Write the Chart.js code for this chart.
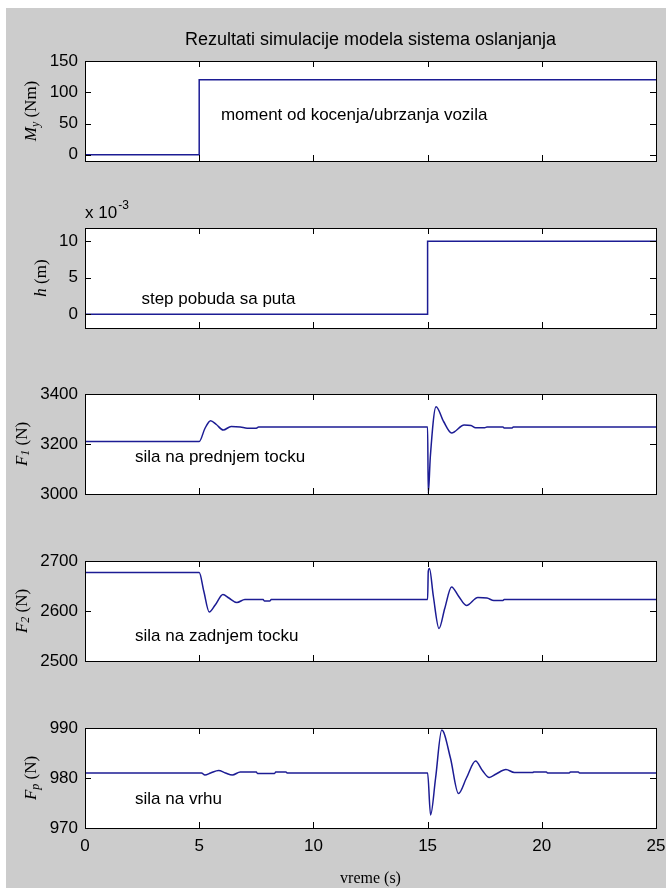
<!DOCTYPE html>
<html>
<head>
<meta charset="utf-8">
<script src="https://cdn.jsdelivr.net/npm/chart.js@4.4.1/dist/chart.umd.min.js"></script>
<style>
  html, body { margin: 0; padding: 0; background: #fff; }
  #fig { position: relative; width: 666px; height: 890px; overflow: hidden; }
  #bg { position: absolute; left: 6px; top: 8px; width: 660px; height: 880px; background: #cccccc; }
  canvas { position: absolute; left: 0; }
</style>
</head>
<body>
<div id="fig">
  <div id="bg"></div>
  <canvas id="c1"></canvas>
  <canvas id="c2"></canvas>
  <canvas id="c3"></canvas>
  <canvas id="c4"></canvas>
  <canvas id="c5"></canvas>
</div>
<script>
// --- data ---
const xTicks = [0, 5, 10, 15, 20, 25]

// braking / acceleration moment M_y (Nm)
const tMoment = [0, 5, 5, 25]
const moment  = [0, 0, 120, 120]

// road step h (x 10^-3 m)
const tRoad = [0, 15, 15, 25]
const road  = [0, 0, 10, 10]

// front wheel force F1 (N)
const tF1 = [0, 5, 5.25, 5.5, 5.75, 6.05, 6.4, 6.8, 7.1, 7.5, 7.6, 15, 15.03, 15.12, 15.37, 15.7, 16.05, 16.6, 16.9, 17.1, 17.5, 17.6, 18.3, 18.35, 18.7, 18.75, 25]
const F1  = [3210, 3210, 3262, 3293, 3278, 3256, 3270, 3268, 3263, 3263, 3268, 3268, 3002, 3150, 3349, 3290, 3244, 3276, 3274, 3265, 3265, 3268, 3268, 3264, 3264, 3268, 3268]

// rear wheel force F2 (N)
const tF2 = [0, 5, 5.2, 5.44, 5.7, 6.04, 6.3, 6.65, 7.0, 7.8, 7.85, 8.1, 8.15, 15, 15.03, 15.08, 15.25, 15.5, 15.75, 16.05, 16.35, 16.7, 17.2, 17.6, 17.9, 18.3, 18.35, 25]
const F2  = [2677, 2677, 2640, 2598, 2612, 2633, 2626, 2617, 2623, 2623, 2620, 2620, 2623, 2623, 2680, 2685, 2630, 2565, 2605, 2648, 2630, 2611, 2627, 2626, 2621, 2621, 2623, 2623]

// force on top Fp (N)
const tFp = [0, 5.1, 5.25, 5.5, 5.85, 6.15, 6.45, 6.8, 7.5, 7.55, 8.3, 8.35, 8.8, 8.85, 15, 15.13, 15.35, 15.62, 16.0, 16.35, 16.7, 17.1, 17.4, 17.7, 18.0, 18.43, 18.8, 19.6, 19.65, 20.2, 20.25, 21.2, 21.25, 21.6, 21.65, 25]
const Fp  = [981, 981, 980.6, 981, 981.5, 981, 980.6, 981.2, 981.2, 980.9, 980.9, 981.2, 981.2, 981, 981, 972.6, 980, 989.6, 984, 976.9, 980, 983.4, 981.5, 980.1, 980.8, 981.7, 981.1, 981.1, 981.2, 981.2, 981, 981, 981.2, 981.2, 981, 981]

const yTicksMoment = [0, 50, 100, 150]
const yTicksRoad = [0, 5, 10]
const yTicksF1 = [3000, 3200, 3400]
const yTicksF2 = [2500, 2600, 2700]
const yTicksFp = [970, 980, 990]

const LINE = '#1c1c94'
const SANS = '"Liberation Sans Narrow", "Liberation Sans", Arial, sans-serif'
const SERIF = '"Liberation Serif", "DejaVu Serif", serif'

// draws the MATLAB-like box, inward ticks, y label, note, title and exponent
const matlabAxes = {
  id: 'matlab',
  beforeDraw(chart) {
    const a = chart.chartArea, ctx = chart.ctx
    ctx.save()
    ctx.fillStyle = '#fff'
    ctx.fillRect(a.left, a.top, a.right - a.left, a.bottom - a.top)
    ctx.restore()
  },
  afterDraw(chart, args, o) {
    const a = chart.chartArea, ctx = chart.ctx
    const xs = chart.scales.x, ys = chart.scales.y
    ctx.save()
    ctx.strokeStyle = '#000'
    ctx.lineWidth = 1
    ctx.strokeRect(Math.round(a.left) + 0.5, Math.round(a.top) + 0.5, Math.round(a.right - a.left), Math.round(a.bottom - a.top))
    ctx.beginPath()
    for (const t of xs.ticks) {
      const px = Math.round(xs.getPixelForValue(t.value)) + 0.5
      ctx.moveTo(px, a.bottom); ctx.lineTo(px, a.bottom - 6)
      ctx.moveTo(px, a.top); ctx.lineTo(px, a.top + 6)
    }
    for (const t of ys.ticks) {
      const py = Math.round(ys.getPixelForValue(t.value)) + 0.5
      ctx.moveTo(a.left, py); ctx.lineTo(a.left + 6, py)
      ctx.moveTo(a.right, py); ctx.lineTo(a.right - 6, py)
    }
    ctx.stroke()

    // y label, rotated
    ctx.font = '17px ' + SANS
    let maxW = 0
    for (const t of ys.ticks) maxW = Math.max(maxW, ctx.measureText(String(t.value)).width)
    const cx = a.left - 7 - maxW - 18
    const cy = (a.top + a.bottom) / 2
    const fMain = 'italic 17px ' + SERIF, fSub = 'italic 12px ' + SERIF, fUnit = '17px ' + SERIF
    ctx.font = fMain; const wM = ctx.measureText(o.main).width
    ctx.font = fSub; const wS = ctx.measureText(o.sub).width
    ctx.font = fUnit; const wU = ctx.measureText(' ' + o.unit).width
    ctx.translate(cx, cy)
    ctx.rotate(-Math.PI / 2)
    ctx.fillStyle = '#000'
    ctx.textBaseline = 'middle'
    ctx.textAlign = 'left'
    let x0 = -(wM + wS + wU) / 2
    ctx.font = fMain; ctx.fillText(o.main, x0, 0); x0 += wM
    ctx.font = fSub; ctx.fillText(o.sub, x0, 4); x0 += wS
    ctx.font = fUnit; ctx.fillText(' ' + o.unit, x0, 0)
    ctx.setTransform(1, 0, 0, 1, 0, 0)

    // note inside the plot
    ctx.font = '17px ' + SANS
    ctx.textBaseline = 'middle'
    ctx.textAlign = 'left'
    ctx.fillText(o.note, xs.getPixelForValue(o.noteX), ys.getPixelForValue(o.noteY))

    if (o.exp) {
      ctx.textBaseline = 'alphabetic'
      ctx.font = '17px ' + SANS
      ctx.fillText('x 10', a.left, a.top - 10)
      const w = ctx.measureText('x 10').width
      ctx.font = '12px ' + SANS
      ctx.fillText(o.exp, a.left + w + 1, a.top - 19)
    }

    if (o.title) {
      ctx.textBaseline = 'alphabetic'
      ctx.textAlign = 'center'
      ctx.font = '18px ' + SANS
      ctx.fillText(o.title, (a.left + a.right) / 2, a.top - 16)
    }
    ctx.restore()
  }
}

function toPoints(t, v) {
  return t.map((x, i) => ({ x: x, y: v[i] }))
}

function makeChart(id, top, height, t, v, yMin, yMax, yTicks, smooth, plug, last) {
  const canvas = document.getElementById(id)
  canvas.width = 666
  canvas.height = height
  canvas.style.top = top + 'px'
  return new Chart(canvas, {
    type: 'line',
    data: {
      datasets: [{
        data: toPoints(t, v),
        borderColor: LINE,
        borderWidth: 1.5,
        pointRadius: 0,
        tension: 0,
        cubicInterpolationMode: smooth ? 'monotone' : 'default'
      }]
    },
    options: {
      responsive: false,
      animation: false,
      events: [],
      layout: { padding: { top: 40, left: 0, right: 10, bottom: 0 } },
      plugins: {
        legend: { display: false },
        tooltip: { enabled: false },
        matlab: plug
      },
      scales: {
        x: {
          type: 'linear',
          min: 0, max: 25,
          afterBuildTicks: s => { s.ticks = xTicks.map(x => ({ value: x })) },
          afterFit: s => {
            s.height = height - 140
            s.paddingLeft = 0
            s.paddingRight = 0
          },
          grid: { display: false, drawTicks: false },
          border: { display: false },
          ticks: {
            display: last,
            color: '#000',
            padding: 8,
            maxRotation: 0,
            autoSkip: false,
            font: { family: SANS, size: 17 },
            callback: x => String(x)
          },
          title: {
            display: last,
            text: 'vreme (s)',
            color: '#000',
            font: { family: SERIF, size: 16 },
            padding: { top: 2, bottom: 0 }
          }
        },
        y: {
          type: 'linear',
          min: yMin, max: yMax,
          afterBuildTicks: s => { s.ticks = yTicks.map(y => ({ value: y })) },
          afterFit: s => {
            s.width = 85
            s.paddingTop = 0
            s.paddingBottom = 0
          },
          grid: { display: false, drawTicks: false },
          border: { display: false },
          ticks: {
            color: '#000',
            padding: 7,
            autoSkip: false,
            font: { family: SANS, size: 17 },
            callback: y => String(y)
          }
        }
      }
    },
    plugins: [matlabAxes]
  })
}

makeChart('c1', 21, 150, tMoment, moment, -10, 150, yTicksMoment, false,
  { main: 'M', sub: 'y', unit: '(Nm)', note: 'moment od kocenja/ubrzanja vozila', noteX: 5.95, noteY: 63,
    title: 'Rezultati simulacije modela sistema oslanjanja' }, false)
makeChart('c2', 188, 150, tRoad, road, -1.9, 11.8, yTicksRoad, false,
  { main: 'h', sub: '', unit: '(m)', note: 'step pobuda sa puta', noteX: 2.47, noteY: 2, exp: '-3' }, false)
makeChart('c3', 354, 150, tF1, F1, 3000, 3400, yTicksF1, true,
  { main: 'F', sub: '1', unit: '(N)', note: 'sila na prednjem tocku', noteX: 2.19, noteY: 3145 }, false)
makeChart('c4', 521, 150, tF2, F2, 2500, 2700, yTicksF2, true,
  { main: 'F', sub: '2', unit: '(N)', note: 'sila na zadnjem tocku', noteX: 2.19, noteY: 2549 }, false)
makeChart('c5', 688, 200, tFp, Fp, 970, 990, yTicksFp, true,
  { main: 'F', sub: 'p', unit: '(N)', note: 'sila na vrhu', noteX: 2.19, noteY: 975.8 }, true)
</script>
</body>
</html>
